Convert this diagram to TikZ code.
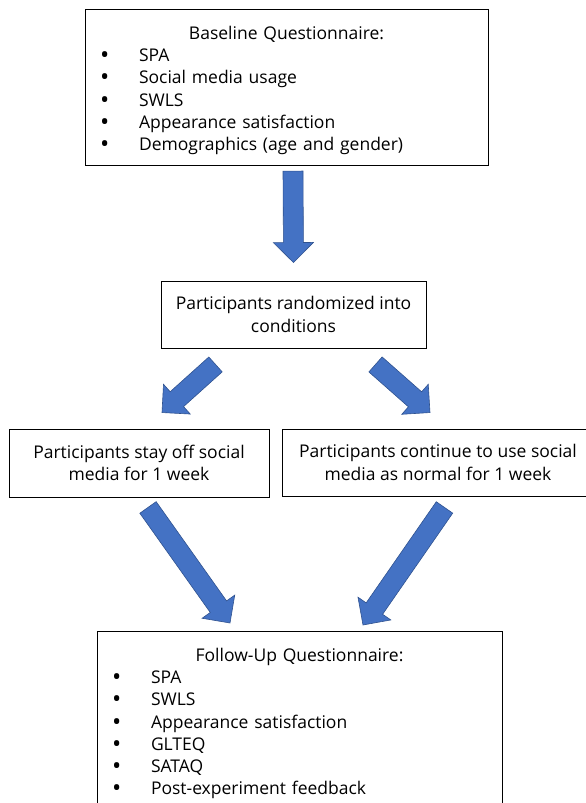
\documentclass[tikz,border=0pt]{standalone}
\usepackage{fontspec}
\setmainfont{Open Sans}
\usetikzlibrary{calc}
\definecolor{arrowblue}{HTML}{4472C4}
\definecolor{arrowedge}{HTML}{2F528F}
\setlength{\parindent}{0pt}
% one bullet line of a questionnaire box
\newcommand{\bitem}[1]{\par\makebox[39pt][l]{\raisebox{-0.12em}{\scalebox{1.4}{\textbullet}}}#1}
% block arrow from #1 to #2 (shaft 20pt, head 40pt wide, 20pt long)
\newcommand{\fatarrow}[2]{%
    \path (#1) coordinate (fs) (#2) coordinate (ft);
    \coordinate (fh) at ($(ft)!20pt!(fs)$);
    \draw[blockarr] ($(fs)!10pt!90:(ft)$) -- ($(fh)!10pt!-90:(fs)$) -- ($(fh)!20pt!-90:(fs)$)
        -- (ft) -- ($(fh)!20pt!90:(fs)$) -- ($(fh)!10pt!90:(fs)$) -- ($(fs)!10pt!-90:(ft)$) -- cycle;}

\begin{document}
\begin{tikzpicture}[x=1pt, y=1pt,
    box/.style={draw=black, line width=0.9pt, font=\fontsize{17.5pt}{22.4pt}\selectfont, align=center},
    listbox/.style={draw=black, line width=0.9pt, font=\fontsize{17.5pt}{22.2pt}\selectfont, inner xsep=15pt, inner ysep=11pt},
    blockarr/.style={fill=arrowblue, draw=arrowedge, line width=0.6pt, line join=miter}]
    \useasboundingbox (0,0) rectangle (586,803);
    \clip (0,0) rectangle (586,803);

    \node[listbox, text width=373pt, anchor=north] (base) at (286.5,794) {\centering\rule{0pt}{19pt}Baseline Questionnaire:\par\raggedright
        \bitem{SPA}\bitem{Social media usage}\bitem{SWLS}\bitem{Appearance satisfaction}\bitem{Demographics (age and gender)}};
    \node[box, minimum width=265pt, minimum height=67pt] (rand) at (293.5,488.5) {Participants randomized into\\conditions};
    \node[box, minimum width=260pt, minimum height=68pt] (off) at (139,340) {Participants stay off social\\media for 1 week};
    \node[box, minimum width=312pt, minimum height=67pt] (cont) at (438,340.5) {Participants continue to use social\\media as normal for 1 week};
    \node[listbox, text width=375pt, anchor=north] (follow) at (299.5,172) {\centering\rule{0pt}{19pt}Follow-Up Questionnaire:\par\raggedright
        \bitem{SPA}\bitem{SWLS}\bitem{Appearance satisfaction}\bitem{GLTEQ}\bitem{SATAQ}\bitem{Post-experiment feedback}};

    % arrows between the stages
    \fatarrow{[xshift=6.5pt, yshift=-5pt]base.south}{[yshift=18pt]rand.north}
    \fatarrow{[xshift=-78pt, yshift=-16pt]rand.south}{[xshift=23pt, yshift=16pt]off.north}
    \fatarrow{[xshift=82pt, yshift=-16pt]rand.south}{[xshift=-8pt, yshift=16pt]cont.north}
    \fatarrow{[xshift=9pt, yshift=-10pt]off.south}{[xshift=-69.5pt, yshift=8pt]follow.north}
    \fatarrow{[xshift=6.5pt, yshift=-11pt]cont.south}{[xshift=63.5pt, yshift=6pt]follow.north}
\end{tikzpicture}
\end{document}
